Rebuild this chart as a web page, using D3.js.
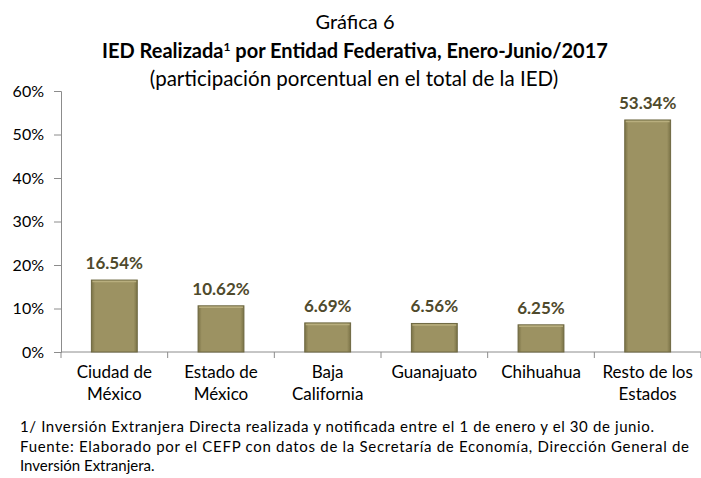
<!DOCTYPE html>
<html>
<head>
<meta charset="utf-8">
<script src="https://cdn.jsdelivr.net/npm/d3@7"></script>
<style>
  body { margin: 0; background: #fff; }
  svg { display: block; font-family: Lato, "Open Sans", sans-serif; }
</style>
</head>
<body>
<div id="chart"></div>
<script>
// Datos
const categories = [["Ciudad de", "México"], ["Estado de", "México"], ["Baja", "California"], ["Guanajuato"], ["Chihuahua"], ["Resto de los", "Estados"]];
const values = [16.54, 10.62, 6.69, 6.56, 6.25, 53.34];
const yTicks = [0, 10, 20, 30, 40, 50, 60];
const footnotes = [
  "1/ Inversión Extranjera Directa realizada y notificada entre el 1 de enero y el 30 de junio.",
  "Fuente: Elaborado por el CEFP con datos de la Secretaría de Economía, Dirección General de",
  "Inversión Extranjera."
];
const footWidths = [634, 669, null];

const width = 701, height = 478;
const margin = { top: 91, right: 0, bottom: 126, left: 61 };
const w = width - margin.left - margin.right;
const h = height - margin.top - margin.bottom;

const svg = d3.select("#chart").append("svg")
  .attr("width", width).attr("height", height);

// Gradiente de barras
const defs = svg.append("defs");
const grad = defs.append("linearGradient").attr("id", "barGrad")
  .attr("x1", "0%").attr("x2", "100%").attr("y1", "0%").attr("y2", "0%");
[[0, "#7a7246"], [0.08, "#9c9262"], [0.92, "#9c9262"], [1, "#7a7246"]]
  .forEach(([o, c]) => grad.append("stop").attr("offset", o).attr("stop-color", c));

// Títulos
svg.append("text").attr("x", 355).attr("y", 29).attr("text-anchor", "middle")
  .style("font-size", "20px").attr("fill", "#000").text("Gráfica 6");
const t2 = svg.append("text").attr("x", 355).attr("y", 58).attr("text-anchor", "middle")
  .style("font-size", "20px").style("font-weight", "bold").attr("fill", "#000");
t2.append("tspan").text("IED Realizada");
t2.append("tspan").attr("dy", -7).style("font-size", "12px").text("1");
t2.append("tspan").attr("dy", 7).text(" por Entidad Federativa, Enero-Junio/2017");
svg.append("text").attr("x", 354).attr("y", 86).attr("text-anchor", "middle")
  .style("font-size", "20.5px").attr("fill", "#000").text("(participación porcentual en el total de la IED)");

const g = svg.append("g").attr("transform", `translate(${margin.left},${margin.top})`);

const x = d3.scaleBand().domain(d3.range(categories.length)).range([0, w]).paddingInner(0.57).paddingOuter(0.285);
const y = d3.scaleLinear().domain([0, 60]).range([h, 0]);

// Eje Y
const yAxis = g.append("g")
  .call(d3.axisLeft(y).tickValues(yTicks).tickFormat(d => d + "%").tickSize(7).tickPadding(10));
yAxis.select(".domain").attr("stroke", "#8c8c8c");
yAxis.selectAll("line").attr("stroke", "#8c8c8c");
yAxis.selectAll("text").style("font-size", "16px").attr("fill", "#000")
  .style("font-family", "Lato, sans-serif");

// Eje X
const step = w / categories.length;
const xAxis = g.append("g").attr("transform", `translate(0,${h})`);
xAxis.append("line").attr("x1", 0).attr("x2", w).attr("stroke", "#8c8c8c");
xAxis.selectAll(".tick").data(d3.range(categories.length + 1)).join("line")
  .attr("x1", i => i * step).attr("x2", i => i * step)
  .attr("y1", 0).attr("y2", 6).attr("stroke", "#8c8c8c");

xAxis.selectAll(".cat").data(categories).join("text")
  .attr("class", "cat")
  .attr("text-anchor", "middle")
  .style("font-size", "17px").attr("fill", "#000")
  .each(function (d, i) {
    const t = d3.select(this);
    d.forEach((line, j) => {
      t.append("tspan").attr("x", x(i) + x.bandwidth() / 2).attr("y", 26 + j * 22).text(line);
    });
  });

// Barras
g.selectAll(".bar").data(values).join("rect")
  .attr("class", "bar")
  .attr("x", (d, i) => x(i))
  .attr("y", d => y(d))
  .attr("width", x.bandwidth())
  .attr("height", d => h - y(d))
  .attr("fill", "url(#barGrad)")
  .attr("stroke", "#6e6842").attr("stroke-width", 1);

g.selectAll(".bar-top").data(values).join("line")
  .attr("x1", (d, i) => x(i) + 1).attr("x2", (d, i) => x(i) + x.bandwidth() - 1)
  .attr("y1", d => y(d) + 1.5).attr("y2", d => y(d) + 1.5)
  .attr("stroke", "#b8ae7e").attr("stroke-width", 1.5);

// Etiquetas de valor
g.selectAll(".val").data(values).join("text")
  .attr("class", "val")
  .attr("x", (d, i) => x(i) + x.bandwidth() / 2)
  .attr("y", d => y(d) - 11)
  .attr("text-anchor", "middle")
  .style("font-size", "17px").style("font-weight", "bold")
  .attr("fill", "#4f4a2c")
  .text(d => d.toFixed(2) + "%");

// Notas
svg.selectAll(".note").data(footnotes).join("text")
  .attr("class", "note")
  .attr("x", 20).attr("y", (d, i) => 432 + i * 19.5)
  .style("font-size", "15px").attr("fill", "#000")
  .each(function (d, i) {
    if (footWidths[i]) d3.select(this).attr("textLength", footWidths[i]).attr("lengthAdjust", "spacing");
  })
  .text(d => d);
</script>
</body>
</html>
